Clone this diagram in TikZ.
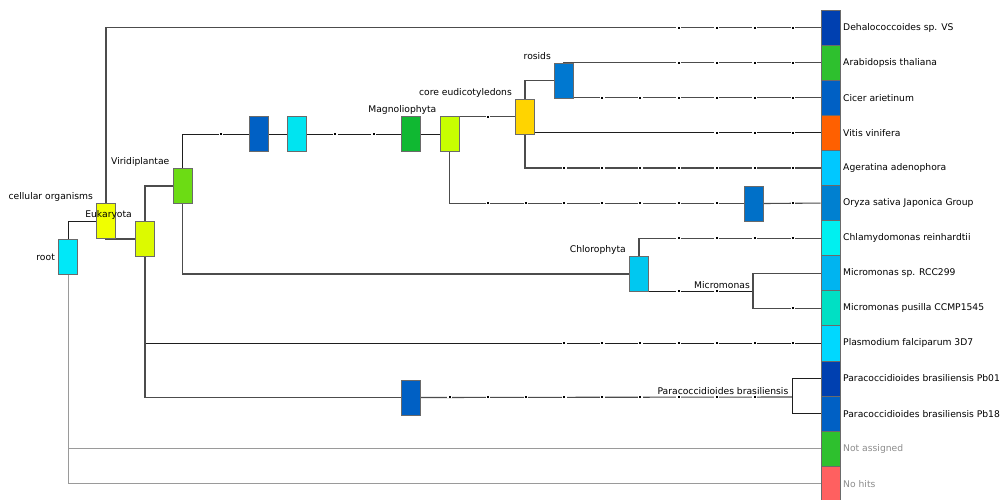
\documentclass[tikz,border=0pt]{standalone}
\usepackage{fontspec}
\setmainfont{DejaVu Sans}
\usetikzlibrary{backgrounds}
\definecolor{boxborder}{HTML}{6A6A6A}
\definecolor{edgegray}{HTML}{4C4C4C}
\definecolor{edgedark}{HTML}{1E1E1E}
\definecolor{edgelight}{HTML}{9A9A9A}
\definecolor{labgray}{HTML}{8C8C8C}
\definecolor{cDarkBlue}{HTML}{0040B0}
\definecolor{cGreen}{HTML}{2EC02E}
\definecolor{cMidBlue}{HTML}{0060C4}
\definecolor{cOrange}{HTML}{FF6000}
\definecolor{cSky}{HTML}{00C8FF}
\definecolor{cOryza}{HTML}{0080D0}
\definecolor{cCyan}{HTML}{00F0F0}
\definecolor{cRCC}{HTML}{00B4F0}
\definecolor{cTeal}{HTML}{00E0C4}
\definecolor{cPlas}{HTML}{00D8FF}
\definecolor{cRed}{HTML}{FF6060}
\definecolor{cRoot}{HTML}{00E8F8}
\definecolor{cYellow}{HTML}{F0FF00}
\definecolor{cEuk}{HTML}{DCFA00}
\definecolor{cViri}{HTML}{6CDC14}
\definecolor{cNB}{HTML}{00E4F0}
\definecolor{cNC}{HTML}{10B832}
\definecolor{cMagno}{HTML}{C8FF00}
\definecolor{cGold}{HTML}{FFD400}
\definecolor{cRosids}{HTML}{0078D0}
\definecolor{cOrBox}{HTML}{0070C8}
\definecolor{cChloro}{HTML}{00C8F0}
\newcommand{\tickrow}[2]{\foreach \k in {#2}{%
  \fill[white] ({221+38.13*\k-2.4},{#1-0.8}) rectangle ++(4.8,1.6);
  \fill[black] ({221+38.13*\k-1},{#1-1}) rectangle ++(2,2);}}
\begin{document}
\begin{tikzpicture}[x=1pt,y=-1pt,
  tbox/.style={draw=boxborder,line width=0.9pt,minimum width=19pt,minimum height=35pt,inner sep=0pt,rectangle},
  cell/.style={draw=boxborder,line width=0.9pt,minimum width=19pt,minimum height=35.1pt,inner sep=0pt,rectangle},
  leaflab/.style={anchor=west,inner sep=0pt,font=\fontsize{9.2}{11}\selectfont},
  tlab/.style={anchor=base east,inner sep=0pt,font=\fontsize{9.2}{11}\selectfont},
  edge/.style={line width=1.1pt,draw=edgegray},
  edgeb/.style={line width=1.0pt,draw=edgedark},
  edgel/.style={line width=0.9pt,draw=edgelight}]
\useasboundingbox (0,0) rectangle (1007,499);
% leaf colour cells
\node[cell,fill=cDarkBlue] (l1) at (830.5,27.55) {};
\node[cell,fill=cGreen] (l2) at (830.5,62.65) {};
\node[cell,fill=cMidBlue] (l3) at (830.5,97.75) {};
\node[cell,fill=cOrange] (l4) at (830.5,132.85) {};
\node[cell,fill=cSky] (l5) at (830.5,167.95) {};
\node[cell,fill=cOryza] (l6) at (830.5,203.05) {};
\node[cell,fill=cCyan] (l7) at (830.5,238.15) {};
\node[cell,fill=cRCC] (l8) at (830.5,273.25) {};
\node[cell,fill=cTeal] (l9) at (830.5,308.35) {};
\node[cell,fill=cPlas] (l10) at (830.5,343.45) {};
\node[cell,fill=cDarkBlue] (l11) at (830.5,378.55) {};
\node[cell,fill=cMidBlue] (l12) at (830.5,413.65) {};
\node[cell,fill=cGreen] (l13) at (830.5,448.75) {};
\node[cell,fill=cRed] (l14) at (830.5,483.85) {};
% leaf labels
\node[leaflab] (t1) at (843,27.55) {Dehalococcoides sp. VS};
\node[leaflab] (t2) at (843,62.65) {Arabidopsis thaliana};
\node[leaflab] (t3) at (843,97.75) {Cicer arietinum};
\node[leaflab] (t4) at (843,132.85) {Vitis vinifera};
\node[leaflab] (t5) at (843,167.95) {Ageratina adenophora};
\node[leaflab] (t6) at (843,203.05) {Oryza sativa Japonica Group};
\node[leaflab] (t7) at (843,238.15) {Chlamydomonas reinhardtii};
\node[leaflab] (t8) at (843,273.25) {Micromonas sp. RCC299};
\node[leaflab] (t9) at (843,308.35) {Micromonas pusilla CCMP1545};
\node[leaflab] (t10) at (843,343.45) {Plasmodium falciparum 3D7};
\node[leaflab] (t11) at (843,378.55) {Paracoccidioides brasiliensis Pb01};
\node[leaflab] (t12) at (843,413.65) {Paracoccidioides brasiliensis Pb18};
\node[leaflab,text=labgray] (t13) at (843,448.75) {Not assigned};
\node[leaflab,text=labgray] (t14) at (843,483.85) {No hits};
% inner nodes
\node[tbox,fill=cRoot] (root) at (68,257) {};
\node[tbox,fill=cYellow] (cell) at (106,221) {};
\node[tbox,fill=cEuk] (euk) at (145,239) {};
\node[tbox,fill=cViri] (viri) at (182.5,186) {};
\node[tbox,fill=cMidBlue] (na) at (259,134) {};
\node[tbox,fill=cNB] (nb) at (296.5,134) {};
\node[tbox,fill=cNC] (nc) at (411,134) {};
\node[tbox,fill=cMagno] (magno) at (449.5,134) {};
\node[tbox,fill=cGold] (core) at (525,116.5) {};
\node[tbox,fill=cRosids] (rosids) at (564,80.5) {};
\node[tbox,fill=cOrBox] (orbox) at (753.5,203.5) {};
\node[tbox,fill=cChloro] (chloro) at (639,274) {};
\node[tbox,fill=cMidBlue] (parabox) at (411,397.5) {};
\coordinate (micro) at (753,291);
\coordinate (para) at (792,397);
% inner labels
\node[tlab,anchor=east] (troot) at ([xshift=-3pt]root.west) {root};
\node[tlab] (tcell) at ([xshift=-3pt,yshift=3.5pt]cell.north west) {cellular organisms};
\node[tlab] (teuk) at ([xshift=-3pt,yshift=3.5pt]euk.north west) {Eukaryota};
\node[tlab] (tviri) at ([xshift=-3pt,yshift=3.5pt]viri.north west) {Viridiplantae};
\node[tlab] (tmagno) at ([xshift=-3pt,yshift=3.5pt]magno.north west) {Magnoliophyta};
\node[tlab] (tcore) at ([xshift=-3pt,yshift=3.5pt]core.north west) {core eudicotyledons};
\node[tlab] (trosids) at ([xshift=-3pt,yshift=3.5pt]rosids.north west) {rosids};
\node[tlab] (tchloro) at ([xshift=-3pt,yshift=3.5pt]chloro.north west) {Chlorophyta};
\node[tlab] (tmicro) at (750,288) {Micromonas};
\node[tlab] (tpara) at (788.5,394) {Paracoccidioides brasiliensis};
% edges behind the boxes
\begin{pgfonlayer}{background}
\fill[white] (0,0) rectangle (1007,499);
\draw[edgeb] (root.center) |- (cell.west);
\draw[edgel] (root.center) |- (l13.west);
\draw[edgel] (root.center) |- (l14.west);
\draw[edge] (cell.center) |- (l1.west);
\draw[edge] (cell.center) |- (euk.west);
\draw[edge] (euk.center) |- (viri.west);
\draw[edgeb] (euk.center) |- (l10.west);
\draw[edge] (euk.center) |- (parabox.west);
\draw[edgeb] (viri.center) |- (na.west);
\draw[edge] (viri.center) |- (chloro.west);
\draw[edgeb] (na.east) -- (nb.west);
\draw[edgeb] (nb.east) -- (nc.west);
\draw[edgeb] (nc.east) -- (magno.west);
\draw[edge] (magno.center) |- (core.west);
\draw[edge] (magno.center) |- (orbox.west);
\draw[edge] (orbox.east) -- (l6.west);
\draw[edge] (core.center) |- (rosids.west);
\draw[edgeb] (core.center) |- (l4.west);
\draw[edge] (core.center) |- (l5.west);
\draw[edge] (rosids.center) |- (l2.west);
\draw[edge] (rosids.center) |- (l3.west);
\draw[edge] (chloro.center) |- (l7.west);
\draw[edgeb] (chloro.center) |- (micro);
\draw[edge] (micro) |- (l8.west);
\draw[edge] (micro) |- (l9.west);
\draw[edge] (parabox.east) -- (para);
\draw[edgeb] (para) |- (l11.west);
\draw[edgeb] (para) |- (l12.west);
\end{pgfonlayer}
% level ticks on the branches
\tickrow{27.55}{12,13,14,15}
\tickrow{62.65}{12,13,14,15}
\tickrow{97.75}{10,11,12,13,14,15}
\tickrow{132.85}{13,14,15}
\tickrow{167.95}{9,10,11,12,13,14,15}
\tickrow{203.05}{7,8,9,10,11,12,13,15}
\tickrow{238.15}{12,13,14,15}
\tickrow{291}{12,13}
\tickrow{308.35}{15}
\tickrow{343.45}{9,10,11,12,13,14,15}
\tickrow{397}{6,7,8,9,10,11,12,13,14}
\tickrow{116.5}{7}
\tickrow{134}{0,3,4}
\end{tikzpicture}
\end{document}
